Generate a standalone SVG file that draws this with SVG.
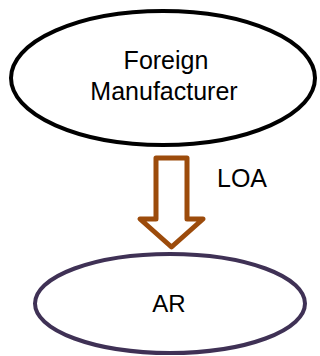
<svg xmlns="http://www.w3.org/2000/svg" width="320" height="356" viewBox="0 0 320 356">
<style>
text{font-family:"Liberation Sans",Arial,sans-serif;fill:#000}
.node{fill:#fff;stroke-width:4}
</style>
<rect width="320" height="356" fill="#fff"/>
<g id="foreign-manufacturer">
<ellipse class="node" cx="163" cy="78" rx="152" ry="67" stroke="#000"/>
<text x="166" y="69" font-size="25" text-anchor="middle">Foreign</text>
<text x="164" y="100" font-size="25" text-anchor="middle">Manufacturer</text>
</g>
<g id="connectors">
<path d="M156,158 L187,158 L187,219 L203,219 L171.5,247 L140,219 L156,219 Z" fill="#fff" stroke="#9C4B0B" stroke-width="5" stroke-linejoin="round"/>
<text x="217" y="187" font-size="25">LOA</text>
</g>
<g id="ar">
<ellipse class="node" cx="170" cy="303.5" rx="135" ry="49.5" stroke="#3F3155"/>
<text x="169" y="312" font-size="24" text-anchor="middle">AR</text>
</g>
</svg>
